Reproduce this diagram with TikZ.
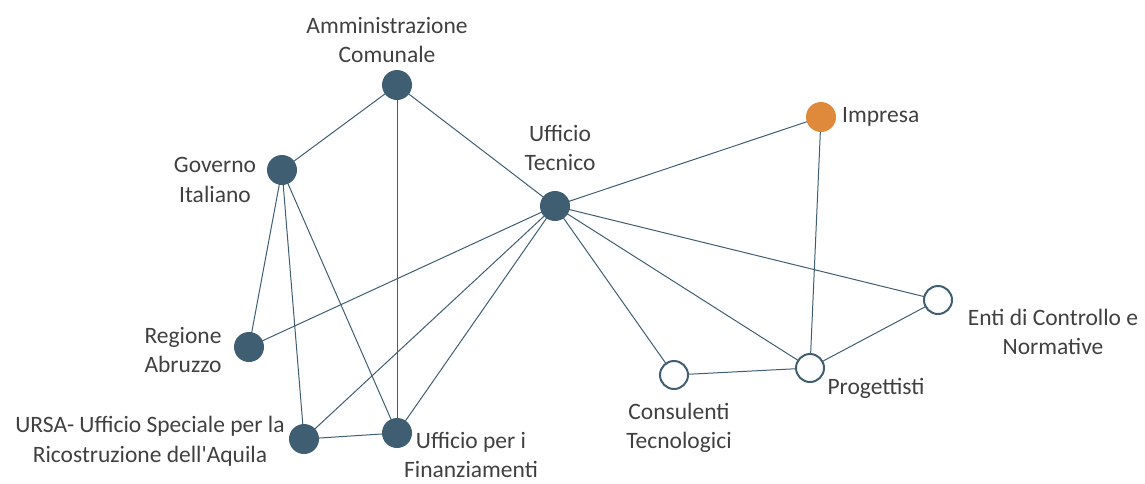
\documentclass[tikz,border=0pt]{standalone}
\usepackage{fontspec}
\setmainfont{Carlito}[Ligatures=TeXOff]
\definecolor{nodeblue}{HTML}{3F5E72}
\definecolor{impresa}{HTML}{DE8A3A}
\definecolor{txt}{HTML}{404040}
\begin{document}
\begin{tikzpicture}[x=1pt,y=-1pt,
  actor/.style={circle,fill=nodeblue,minimum size=30pt,inner sep=0pt},
  ext/.style={circle,draw=nodeblue,line width=2pt,fill=white,minimum size=28pt,inner sep=0pt},
  imp/.style={circle,fill=impresa,minimum size=30pt,inner sep=0pt},
  lbl/.style={text=txt,font=\fontsize{23.5}{29.5}\selectfont,align=center,inner sep=0pt},
  link/.style={draw=nodeblue,line width=1pt}]
\useasboundingbox (0,0) rectangle (1145,483);
% links (coordinates of nodes first)
\coordinate (amm) at (397,85);
\coordinate (gov) at (282,170);
\coordinate (ut) at (555,206);
\coordinate (imp) at (821,117);
\coordinate (reg) at (249,347);
\coordinate (ursa) at (304,439);
\coordinate (fin) at (397,433);
\coordinate (cons) at (674,375);
\coordinate (prog) at (810,368);
\coordinate (enti) at (938,300);
\path[link] (amm) -- (gov);
\path[link] (amm) -- (ut);
\path[link] (amm) -- (fin);
\path[link] (gov) -- (reg);
\path[link] (gov) -- (ursa);
\path[link] (gov) -- (fin);
\path[link] (ut) -- (reg);
\path[link] (ut) -- (ursa);
\path[link] (ut) -- (fin);
\path[link] (ut) -- (imp);
\path[link] (ut) -- (cons);
\path[link] (ut) -- (prog);
\path[link] (ut) -- (enti);
\path[link] (ursa) -- (fin);
\path[link] (imp) -- (prog);
\path[link] (cons) -- (prog);
\path[link] (prog) -- (enti);
% nodes
\node[actor] (namm) at (amm) {};
\node[actor] (ngov) at (gov) {};
\node[actor] (nut) at (ut) {};
\node[imp] (nimp) at (imp) {};
\node[actor] (nreg) at (reg) {};
\node[actor] (nursa) at (ursa) {};
\node[actor] (nfin) at (fin) {};
\node[ext] (ncons) at (cons) {};
\node[ext] (nprog) at (prog) {};
\node[ext] (nenti) at (enti) {};
% labels
\node[lbl] (lamm) at (387,40) {Amministrazione\\Comunale};
\node[lbl] (lgov) at (215,180) {Governo\\Italiano};
\node[lbl] (lut) at (560,148) {Ufficio\\Tecnico};
\node[lbl,anchor=west] (limp) at (842,117) {Impresa};
\node[lbl] (lreg) at (183,350) {Regione\\Abruzzo};
\node[lbl] (lursa) at (150,441) {URSA- Ufficio Speciale per la\\Ricostruzione dell'Aquila};
\node[lbl] (lfin) at (471,455) {Ufficio per i\\Finanziamenti};
\node[lbl] (lcons) at (679,428) {Consulenti\\Tecnologici};
\node[lbl] (lprog) at (876,388) {Progettisti};
\node[lbl] (lenti) at (1053,332) {Enti di Controllo e\\Normative};
\end{tikzpicture}
\end{document}
